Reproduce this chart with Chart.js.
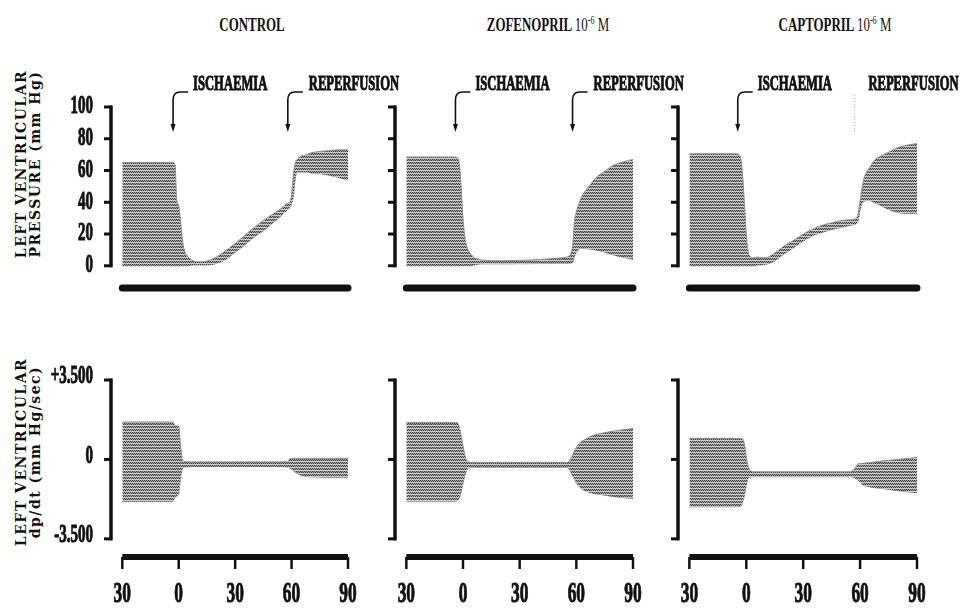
<!DOCTYPE html>
<html>
<head>
<meta charset="utf-8">
<script src="https://cdn.jsdelivr.net/npm/chart.js@4.4.0/dist/chart.umd.min.js"></script>
<style>
  body { margin: 0; background: #fff; }
  #wrap { position: relative; width: 969px; height: 609px; overflow: hidden; }
  #wrap canvas { position: absolute; left: 0; top: 0; }
  .hdr { position: absolute; top: 25px; transform: translate(-50%, -50%) scaleX(0.68);
         font: bold 19px "Liberation Serif", serif; white-space: nowrap; color: #111; }
  .hdr .thin { font-weight: normal; }
  .hdr .sup { font-size: 12px; position: relative; top: -7px; font-weight: normal; }
  .ytitle { position: absolute; transform: translate(-50%, -50%) rotate(-90deg);
            font: bold 14px "DejaVu Serif", serif; letter-spacing: 1.5px; line-height: 14px;
            text-align: center; white-space: nowrap; color: #111; }
</style>
</head>
<body>
<div id="wrap">
  <div class="hdr" style="left:252px">CONTROL</div>
  <div class="hdr" style="left:548px">ZOFENOPRIL <span class="thin">10</span><span class="sup">-6</span> <span class="thin">M</span></div>
  <div class="hdr" style="left:835px">CAPTOPRIL <span class="thin">10</span><span class="sup">-6</span> <span class="thin">M</span></div>
  <div class="ytitle" style="left:28px;top:164px">LEFT VENTRICULAR<br>PRESSURE (mm Hg)</div>
  <div class="ytitle" style="left:28px;top:452px">LEFT VENTRICULAR<br>dp/dt (mm Hg/sec)</div>
</div>
<script>
// time in minutes (ischaemia starts at 0, reperfusion at 60)
const minutes = [-30, -5, -3, -2, -1, 0, 1, 2, 3, 4, 6, 8, 10, 15, 20, 25, 30, 35, 40, 45, 50, 55, 58, 59, 60, 61, 62, 63, 65, 68, 70, 75, 80, 85, 90];

// left ventricular pressure (mm Hg), upper and lower edge of the trace
const controlPressureMax = [65, 65, 65, 64, 41, 38, 28, 16, 10, 7, 4.5, 3, 2.5, 3, 5.5, 9.5, 14, 19, 24, 28.5, 32.5, 36.5, 39.5, 40, 45, 58, 65, 67, 69, 70, 71, 72, 72.5, 73, 73];
const controlPressureMin = [0, 0, 0, 0, 0, 0, 0, 0, 0, 0, 0.3, 0.5, 0.5, 0.5, 1.5, 4, 8.5, 13, 18, 22, 27, 32, 35.5, 36.5, 39, 44, 55, 59, 59, 59, 58.5, 58, 57, 55.5, 54];
const zofenoprilPressureMax = [68.5, 68.5, 68, 65, 50, 30, 18, 12, 9.5, 7.5, 5, 4.2, 3.7, 3.2, 3.2, 3.3, 3.4, 3.6, 3.9, 4.3, 4.8, 5.5, 12, 28, 34, 38, 41, 44, 47.5, 52, 55, 59.5, 63.5, 65.5, 67];
const zofenoprilPressureMin = [0, 0, 0, 0, 0, 0, 0, 0, 0, 0, 0.5, 1, 1.2, 1.2, 1.2, 1.2, 1.3, 1.3, 1.4, 1.4, 1.5, 1.5, 2, 6, 8.5, 10, 11, 11, 10.8, 10.3, 10, 8.5, 6.7, 5.3, 4];
const captoprilPressureMax = [70.5, 70.5, 68, 58, 40, 20, 9, 6, 5, 5, 5.5, 5, 5, 8, 12.5, 16, 20, 23, 25.5, 27, 28.5, 29, 30, 33, 41, 49, 55, 58, 62, 67, 68.5, 71.5, 74.5, 76, 77];
const captoprilPressureMin = [0, 0, 0, 0, 0, 0, 0, 0, 0, 0, 0.5, 0.5, 0.8, 3, 7.5, 11.5, 15.5, 19, 21, 22.8, 24.2, 25.5, 26.5, 28.5, 35, 39, 40.5, 41, 41, 39.5, 38.5, 35.5, 33.5, 33, 33];

// left ventricular dp/dt (mm Hg/sec)
const controlDpdtMax = [1650, 1650, 1650, 1480, 1470, 1450, 600, 0, -80, -100, -110, -110, -110, -110, -110, -110, -110, -110, -110, -110, -110, -110, -100, 30, 45, 50, 50, 50, 50, 50, 50, 50, 50, 50, 50];
const controlDpdtMin = [-1850, -1850, -1850, -1650, -1620, -1500, -800, -420, -340, -330, -320, -320, -320, -320, -320, -320, -320, -320, -320, -320, -320, -320, -340, -380, -430, -500, -570, -620, -700, -750, -770, -780, -790, -790, -790];
const zofenoprilDpdtMax = [1630, 1630, 1620, 1450, 1050, 600, 200, -50, -110, -130, -130, -130, -130, -130, -130, -130, -130, -130, -130, -130, -130, -130, 180, 400, 530, 650, 730, 800, 900, 1030, 1090, 1180, 1250, 1310, 1365];
const zofenoprilDpdtMin = [-1840, -1840, -1830, -1700, -1450, -1050, -700, -480, -380, -360, -350, -350, -350, -350, -350, -350, -350, -350, -350, -350, -350, -350, -700, -880, -1030, -1150, -1230, -1300, -1390, -1480, -1510, -1580, -1640, -1690, -1720];
const captoprilDpdtMax = [930, 930, 920, 900, 700, 100, -300, -480, -530, -545, -545, -545, -545, -545, -545, -545, -545, -545, -545, -545, -545, -545, -300, -190, -180, -175, -170, -160, -140, -110, -85, -40, 0, 45, 90];
const captoprilDpdtMin = [-2090, -2090, -2080, -1900, -1600, -1150, -820, -780, -770, -765, -765, -765, -765, -765, -765, -765, -765, -765, -765, -765, -765, -765, -860, -910, -1000, -1100, -1140, -1170, -1210, -1250, -1265, -1320, -1380, -1430, -1470];

// axes
const pressureTicks = [0, 20, 40, 60, 80, 100];
const pressureTickLabels = ['0', '20', '40', '60', '80', '100'];
const dpdtTicks = [-3500, 0, 3500];
const dpdtTickLabels = ['-3.500', '0', '+3.500'];
const timeTicks = [-30, 0, 30, 60, 90];
const timeTickLabels = ['30', '0', '30', '60', '90'];

// event markers (minutes) per column
const ischaemiaMarkAt = [-3, -4, -4.5];
const reperfusionMarkAt = [58, 58, 57];

// layout
const axisX = [111, 395, 678];
const dataEnd = [348, 633, 917];
const rows = [
  { top: 107, bottom: 288, min: -14, max: 100 },
  { top: 380, bottom: 557, min: -4300, max: 3500 }
];

const panels = [
  { row: 0, col: 0, max: controlPressureMax, min: controlPressureMin },
  { row: 0, col: 1, max: zofenoprilPressureMax, min: zofenoprilPressureMin },
  { row: 0, col: 2, max: captoprilPressureMax, min: captoprilPressureMin },
  { row: 1, col: 0, max: controlDpdtMax, min: controlDpdtMin },
  { row: 1, col: 1, max: zofenoprilDpdtMax, min: zofenoprilDpdtMin },
  { row: 1, col: 2, max: captoprilDpdtMax, min: captoprilDpdtMin }
];

function toPoints(values) {
  return minutes.map((t, i) => ({ x: t, y: values[i] }));
}

function makeStipple() {
  const c = document.createElement('canvas');
  c.width = 4; c.height = 3;
  const g = c.getContext('2d');
  g.fillStyle = '#a6a6a6'; g.fillRect(0, 0, 4, 3);
  g.fillStyle = '#3c3c3c';
  [[0, 0], [2, 0], [1, 1], [3, 1]].forEach(([a, b]) => g.fillRect(a, b, 1, 1));
  g.fillStyle = '#cdcdcd'; g.fillRect(0, 2, 4, 1);
  return g.createPattern(c, 'repeat');
}

// condensed bold serif text like the original typesetting
function squeezedText(ctx, text, x, y, size, align, sx) {
  ctx.save();
  ctx.font = 'bold ' + size + 'px "Liberation Serif"';
  ctx.textBaseline = 'middle';
  ctx.textAlign = 'left';
  const w = ctx.measureText(text).width * sx;
  const left = align === 'right' ? x - w : align === 'center' ? x - w / 2 : x;
  ctx.translate(left, y);
  ctx.scale(sx, 1);
  ctx.fillText(text, 0, 0);
  ctx.lineWidth = 1;
  ctx.strokeText(text, 0, 0);
  ctx.restore();
}

function bentArrow(ctx, xa) {
  ctx.save();
  ctx.lineWidth = 1.6;
  ctx.beginPath();
  ctx.moveTo(xa + 15, 92);
  ctx.lineTo(xa + 7, 92);
  ctx.quadraticCurveTo(xa, 92, xa, 100);
  ctx.lineTo(xa, 125);
  ctx.stroke();
  ctx.beginPath();
  ctx.moveTo(xa - 2.5, 124);
  ctx.lineTo(xa + 2.5, 124);
  ctx.lineTo(xa, 132);
  ctx.closePath();
  ctx.fill();
  ctx.restore();
}

const panelAxes = {
  id: 'panelAxes',
  afterDraw(chart, args, opts) {
    const { ctx, chartArea, scales: { x, y } } = chart;
    const ticks = opts.row === 0 ? pressureTicks : dpdtTicks;
    const labels = opts.row === 0 ? pressureTickLabels : dpdtTickLabels;
    const ax = chartArea.left;
    ctx.save();
    ctx.strokeStyle = '#111';
    ctx.fillStyle = '#111';

    // y axis bracket
    const yTop = y.getPixelForValue(ticks[ticks.length - 1]);
    const yBot = y.getPixelForValue(ticks[0]);
    ctx.lineWidth = 3.5;
    ctx.beginPath();
    ctx.moveTo(ax, yTop - 1.5);
    ctx.lineTo(ax, yBot + 1.5);
    ctx.stroke();
    ctx.lineWidth = 3;
    ticks.forEach((v, i) => {
      const py = y.getPixelForValue(v);
      ctx.beginPath();
      ctx.moveTo(ax - 7, py);
      ctx.lineTo(ax + 1, py);
      ctx.stroke();
      if (opts.col === 0) {
        squeezedText(ctx, labels[i], ax - 18, py - (opts.row === 1 ? 3 : 0), 25, 'right', 0.6);
      }
    });

    // thick time bar
    const x0 = x.getPixelForValue(timeTicks[0]);
    const x1 = x.getPixelForValue(timeTicks[timeTicks.length - 1]);
    const by = chartArea.bottom;
    ctx.lineWidth = opts.row === 0 ? 7 : 6;
    ctx.lineCap = opts.row === 0 ? 'round' : 'butt';
    ctx.beginPath();
    ctx.moveTo(x0, by);
    ctx.lineTo(x1, by);
    ctx.stroke();
    ctx.lineCap = 'butt';

    if (opts.row === 1) {
      ctx.lineWidth = 2.5;
      timeTicks.forEach((t, i) => {
        const px = x.getPixelForValue(t);
        ctx.beginPath();
        ctx.moveTo(px, by);
        ctx.lineTo(px, by + 12);
        ctx.stroke();
        squeezedText(ctx, timeTickLabels[i], px, by + 38, 29, 'center', 0.6);
      });
    } else {
      const xi = x.getPixelForValue(ischaemiaMarkAt[opts.col]);
      bentArrow(ctx, xi);
      squeezedText(ctx, 'ISCHAEMIA', xi + 20, 85, 20, 'left', 0.63);
      const xr = x.getPixelForValue(reperfusionMarkAt[opts.col]);
      if (opts.col < 2) {
        bentArrow(ctx, xr);
        squeezedText(ctx, 'REPERFUSION', xr + 21, 85, 20, 'left', 0.63);
      } else {
        ctx.save();
        ctx.strokeStyle = '#b0b0b0';
        ctx.lineWidth = 1;
        ctx.setLineDash([1, 2]);
        ctx.beginPath();
        ctx.moveTo(xr, 95);
        ctx.lineTo(xr, 133);
        ctx.stroke();
        ctx.restore();
        squeezedText(ctx, 'REPERFUSION', xr + 14, 85, 20, 'left', 0.63);
      }
    }
    ctx.restore();
  }
};

const wrap = document.getElementById('wrap');
const stipple = makeStipple();

panels.forEach(p => {
  const cv = document.createElement('canvas');
  cv.width = 969;
  cv.height = 609;
  wrap.appendChild(cv);
  const r = rows[p.row];
  new Chart(cv, {
    type: 'line',
    data: {
      datasets: [
        {
          data: toPoints(p.max),
          fill: '+1',
          backgroundColor: stipple,
          borderColor: '#8c8c8c',
          borderWidth: 1,
          pointRadius: 0,
          cubicInterpolationMode: 'monotone'
        },
        {
          data: toPoints(p.min),
          fill: false,
          borderColor: '#8c8c8c',
          borderWidth: 1,
          pointRadius: 0,
          cubicInterpolationMode: 'monotone'
        }
      ]
    },
    options: {
      responsive: false,
      animation: false,
      devicePixelRatio: 1,
      events: [],
      layout: {
        padding: {
          left: axisX[p.col],
          right: 969 - dataEnd[p.col],
          top: r.top,
          bottom: 609 - r.bottom
        }
      },
      scales: {
        x: { type: 'linear', display: false, min: -36, max: 90 },
        y: { display: false, min: r.min, max: r.max }
      },
      plugins: {
        legend: { display: false },
        tooltip: { enabled: false },
        panelAxes: { row: p.row, col: p.col }
      }
    },
    plugins: [panelAxes]
  });
});
</script>
</body>
</html>
